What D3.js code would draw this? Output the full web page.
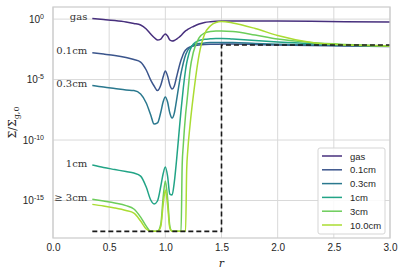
<!DOCTYPE html>
<html>
<head>
<meta charset="utf-8">
<script src="https://cdn.jsdelivr.net/npm/d3@7"></script>
<style>
body { margin: 0; background: #fff; }
svg { display: block; }
</style>
</head>
<body>
<div id="wrapper"></div>
<script>
// radius grid and log10(Sigma / Sigma_g,0) per series
const rGrid = [0.35, 0.45, 0.55, 0.65, 0.72, 0.78, 0.83, 0.87, 0.9, 0.93,
    0.96, 0.98, 1.0, 1.02, 1.04, 1.06, 1.08, 1.1, 1.12, 1.14,
    1.15, 1.16, 1.18, 1.19, 1.2, 1.22, 1.25, 1.3, 1.35, 1.4,
    1.45, 1.5, 1.6, 1.8, 2.0, 2.3, 2.6, 3.0];

const gasLog = [0.05, -0.03, -0.12, -0.24, -0.36, -0.49, -0.82, -1.23, -1.52, -1.73,
    -1.65, -1.40, -1.23, -1.40, -1.73, -1.81, -1.77, -1.65, -1.52, -1.36,
    -1.26, -1.15, -0.98, -0.92, -0.86, -0.74, -0.61, -0.41, -0.28, -0.22,
    -0.18, -0.16, -0.16, -0.16, -0.16, -0.18, -0.21, -0.24];

const cm01Log = [-2.78, -2.89, -3.01, -3.18, -3.34, -3.55, -4.21, -5.04, -5.53, -5.91,
    -5.45, -4.79, -4.29, -4.71, -5.45, -5.78, -5.53, -4.79, -4.04, -3.38,
    -3.13, -2.89, -2.56, -2.47, -2.39, -2.31, -2.22, -2.14, -2.10, -2.08,
    -2.08, -2.06, -2.06, -2.10, -2.14, -2.18, -2.22, -2.27];

const cm03Log = [-5.48, -5.62, -5.74, -5.86, -5.91, -6.20, -6.94, -7.93, -8.68, -8.59,
    -7.68, -6.86, -6.44, -6.86, -7.77, -8.18, -7.77, -6.69, -5.53, -4.46,
    -4.04, -3.63, -2.97, -2.76, -2.56, -2.35, -2.14, -2.02, -1.98, -1.94,
    -1.94, -1.94, -1.94, -2.02, -2.08, -2.14, -2.18, -2.22];

const cm1Log = [-12.07, -12.27, -12.44, -12.61, -12.73, -12.98, -13.89, -14.96, -15.29, -15.04,
    -13.80, -12.81, -12.23, -12.98, -14.47, -14.55, -13.47, -11.65, -9.59, -7.52,
    -6.61, -5.70, -4.21, -3.63, -3.22, -2.56, -2.06, -1.77, -1.67, -1.63,
    -1.60, -1.60, -1.65, -1.77, -1.89, -2.02, -2.14, -2.22];

const cm3Log = [-14.90, -15.05, -15.21, -15.42, -15.70, -16.37, -17.12, -17.55, -17.55, -17.55,
    -16.94, -14.79, -13.39, -14.79, -17.12, -17.55, -17.55, -17.55, -17.55, -17.55,
    -12.07, -10.41, -7.93, -7.02, -6.11, -4.21, -2.72, -1.56, -1.15, -1.03,
    -0.98, -0.98, -1.03, -1.32, -1.65, -1.94, -2.10, -2.22];

const cm10Log = [-15.32, -15.46, -15.62, -15.83, -16.04, -16.70, -17.36, -17.55, -17.55, -17.55,
    -17.12, -15.38, -14.14, -15.38, -17.28, -17.55, -17.55, -17.55, -17.55, -17.55,
    -17.55, -17.55, -17.55, -12.48, -10.83, -8.76, -6.28, -2.97, -1.23, -0.57,
    -0.28, -0.20, -0.32, -0.78, -1.36, -1.94, -2.14, -2.22];

// initial step profile (dashed)
const stepR = [0.35, 1.5, 1.5, 3.0];
const stepLog = [-17.55, -17.55, -2.14, -2.14];

const legendNames = ["gas", "0.1cm", "0.3cm", "1cm", "3cm", "10.0cm"];
const seriesLogs = [gasLog, cm01Log, cm03Log, cm1Log, cm3Log, cm10Log];
const seriesColors = ["#472f7d", "#3b558c", "#2a788e", "#22a486", "#6ccd5a", "#aadc32"];

// left-hand annotations: text and which series they sit next to
const noteTexts = ["gas", "0.1cm", "0.3cm", "1cm", "\u2265 3cm"];
const noteSeries = [0, 1, 2, 3, 4];

const xTicks = [0, 0.5, 1.0, 1.5, 2.0, 2.5, 3.0];
const yTickExp = [0, -5, -10, -15];

const W = 404, H = 277;
const margin = {left: 53, right: 14, top: 7, bottom: 39};

const svg = d3.select("#wrapper").append("svg")
    .attr("width", W).attr("height", H);

const x = d3.scaleLinear().domain([0, 3]).range([margin.left, W - margin.right]);
const y = d3.scaleLog().domain([10 ** -18.1, 10]).range([H - margin.bottom, margin.top]);

const grid = "#d9d9d9";
const txt = "#262626";

// grid lines
svg.append("g").selectAll("line").data(xTicks).join("line")
    .attr("x1", d => x(d)).attr("x2", d => x(d))
    .attr("y1", margin.top).attr("y2", H - margin.bottom)
    .attr("stroke", grid).attr("stroke-width", 1);
svg.append("g").selectAll("line").data(yTickExp).join("line")
    .attr("x1", margin.left).attr("x2", W - margin.right)
    .attr("y1", d => y(10 ** d)).attr("y2", d => y(10 ** d))
    .attr("stroke", grid).attr("stroke-width", 1);

// x tick labels via axis
const xAxis = d3.axisBottom(x).tickValues(xTicks).tickSize(0).tickPadding(6)
    .tickFormat(d3.format(".1f"));
const gx = svg.append("g").attr("transform", `translate(0,${H - margin.bottom})`).call(xAxis);
gx.select(".domain").remove();
gx.selectAll("text").attr("fill", txt).style("font-family", "Liberation Sans, Arial, sans-serif")
    .style("font-size", "10px");

// y tick labels 10^n
const yl = svg.append("g").selectAll("text").data(yTickExp).join("text")
    .attr("x", margin.left - 9).attr("y", d => y(10 ** d) + 3.5)
    .attr("text-anchor", "end").attr("fill", txt)
    .style("font-family", "Liberation Sans, Arial, sans-serif").style("font-size", "10px");
yl.append("tspan").text("10");
yl.append("tspan").attr("dy", -4).style("font-size", "7px").text(d => d === 0 ? "0" : "-" + Math.abs(d));

// curves
const line = d3.line()
    .x(d => x(d[0]))
    .y(d => y(10 ** d[1]))
    .curve(d3.curveMonotoneX);

seriesLogs.forEach((vals, i) => {
    svg.append("path")
        .attr("d", line(rGrid.map((r, j) => [r, vals[j]])))
        .attr("fill", "none")
        .attr("stroke", seriesColors[i])
        .attr("stroke-width", 1.5);
});

// dashed step
svg.append("path")
    .attr("d", d3.line().x(d => x(d[0])).y(d => y(10 ** d[1]))(stepR.map((r, j) => [r, stepLog[j]])))
    .attr("fill", "none").attr("stroke", "#1a1a1a")
    .attr("stroke-width", 1.6).attr("stroke-dasharray", "5,3");

// frame
svg.append("rect")
    .attr("x", margin.left).attr("y", margin.top)
    .attr("width", W - margin.left - margin.right)
    .attr("height", H - margin.top - margin.bottom)
    .attr("fill", "none").attr("stroke", "#cccccc").attr("stroke-width", 1.25);

// annotations at curve starts
svg.append("g").selectAll("text").data(noteTexts).join("text")
    .attr("x", x(rGrid[0]) - 5)
    .attr("y", (d, i) => y(10 ** seriesLogs[noteSeries[i]][0]) + 1.5)
    .attr("text-anchor", "end").attr("fill", "#333")
    .style("font-family", "DejaVu Serif, Liberation Serif, serif").style("font-size", "10px")
    .text(d => d);

// axis labels
svg.append("text")
    .attr("x", x(1.5)).attr("y", H - 10)
    .attr("text-anchor", "middle").attr("fill", txt)
    .style("font-family", "DejaVu Serif, serif").style("font-style", "italic").style("font-size", "11px")
    .text("r");

const ylab = svg.append("text")
    .attr("transform", `translate(16, ${(margin.top + H - margin.bottom) / 2}) rotate(-90)`)
    .attr("text-anchor", "middle").attr("fill", txt)
    .style("font-family", "DejaVu Serif, serif").style("font-size", "11px");
ylab.append("tspan").text("\u03A3/\u03A3");
ylab.append("tspan").attr("dy", 3).style("font-size", "8px").text("g,0");

// legend
const lg = svg.append("g").attr("transform", "translate(318,148)");
lg.append("rect").attr("width", 67).attr("height", 86).attr("rx", 2)
    .attr("fill", "#fff").attr("fill-opacity", 0.85)
    .attr("stroke", "#d5d5d5").attr("stroke-width", 1);
const items = lg.selectAll("g.item").data(legendNames).join("g")
    .attr("class", "item")
    .attr("transform", (d, i) => `translate(0, ${8 + i * 13.8})`);
items.append("line").attr("x1", 4).attr("x2", 24)
    .attr("stroke", (d, i) => seriesColors[i]).attr("stroke-width", 1.5);
items.append("text").attr("x", 32).attr("y", 3.5).attr("fill", txt)
    .style("font-family", "Liberation Sans, Arial, sans-serif").style("font-size", "9.5px")
    .text(d => d);
</script>
</body>
</html>
